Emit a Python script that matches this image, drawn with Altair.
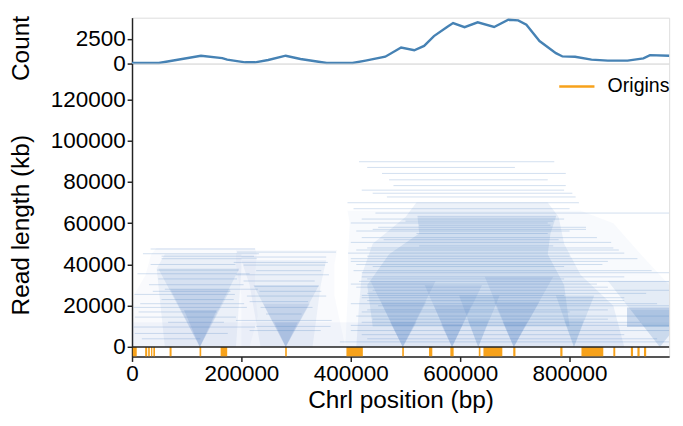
import altair as alt
import pandas as pd

# ---------------- data ----------------
# coverage (top panel)
cov_pos = [0, 49000, 126000, 165000, 174000, 207000, 225000, 249000, 281000, 308000,
           356000, 403000, 427000, 463000, 492000, 516000, 534000, 552000, 576000, 587000,
           608000, 632000, 662000, 688000, 706000, 721000, 745000, 775000, 787000, 810000,
           840000, 870000, 906000, 935000, 947000, 982000]
cov_val = [60, 60, 790, 550, 400, 130, 130, 360, 790, 460,
           60, 60, 300, 690, 1610, 1340, 1780, 2770, 3690, 4080,
           3660, 4150, 3690, 4410, 4350, 3910, 2270, 1050, 720, 690,
           400, 300, 300, 520, 850, 790]

# replication origins (start, end in bp)
orig_start = [1400, 24000, 29500, 34800, 39000, 68700, 123500, 162000, 280000, 392000, 494000,
              543000, 582000, 634000, 642500, 697000, 783000, 821700, 880000, 912000, 924000, 936000]
orig_end = [8600, 27700, 32500, 37100, 42000, 72300, 126500, 174000, 283000, 422000, 497000,
            549000, 588000, 637000, 677000, 701000, 787000, 861600, 883500, 916000, 928000, 940000]

# individual visible reads: length (y), start, end
read_len = [47500, 45200, 44000, 42800, 40000, 37300, 35500, 33000, 30200, 28000, 27000, 25500, 23000,
            21000, 19200, 17000, 14500, 12000, 9700, 6600, 4000,
            46000, 43600, 41000, 39700, 37000, 35000, 32000, 29400, 27000, 24700, 22000, 19200,
            16000, 12900, 10000, 8000,
            89760, 87000, 84100, 81000, 78200, 76000, 74500, 72700, 69900, 67000, 64900, 63300,
            62000, 61000, 60100, 59000, 58000, 57000, 56200, 55000, 53000, 52000, 50700, 49000,
            48000, 47000, 45500, 44000, 42800, 41500, 40000, 39000, 37000, 36000, 34000, 33000,
            31800, 30500, 29000, 27500, 26000, 25000, 23900, 22500, 21000, 20000, 18000, 17000,
            15000, 13500, 12000, 10500, 8000, 6000, 4000, 2500]
read_start = [34000, 20000, 54000, 54000, 34000, 46000, 10000, 48000, 31000, 60000, 38000, 4500, 54000,
              15000, 3000, 12000, 5000, 66000, 3000, 5000, 18000,
              192000, 200000, 186000, 204000, 227000, 190000, 204000, 224000, 233000, 210000, 215000, 235000,
              245000, 190000, 227000, 215000,
              415000, 430000, 457000, 470000, 478000, 420000, 440000, 466000, 394000, 405000, 445000, 522000,
              420000, 500000, 400000, 525000, 450000, 440000, 410000, 520000, 420000, 460000, 400000, 525000,
              430000, 410000, 395000, 430000, 400000, 400000, 410000, 440000, 405000, 420000, 420000, 430000,
              415000, 400000, 410000, 440000, 430000, 420000, 420000, 430000, 400000, 450000, 430000, 420000,
              410000, 440000, 420000, 400000, 400000, 420000, 430000, 380000]
read_end = [225000, 232000, 223000, 228000, 189000, 195000, 215000, 192000, 204000, 230000, 180000, 188000, 186000,
            205000, 210000, 155000, 190000, 168000, 225000, 175000, 125000,
            373000, 355000, 358000, 353000, 346000, 360000, 334000, 341000, 346000, 355000, 322000, 330000,
            310000, 365000, 363000, 345000,
            772000, 700000, 793000, 760000, 793000, 790000, 805000, 811000, 817000, 800000, 982000, 775000,
            790000, 770000, 760000, 765000, 830000, 830000, 800000, 760000, 850000, 780000, 876000, 770000,
            880000, 890000, 900000, 800000, 924000, 870000, 860000, 790000, 950000, 982000, 900000, 790000,
            982000, 850000, 870000, 982000, 940000, 790000, 900000, 900000, 960000, 982000, 870000, 800000,
            982000, 870000, 930000, 982000, 982000, 900000, 960000, 982000]

# broad density envelopes of the read cloud: shape id, opacity, read length, left and right edge
env_shape = ["FA"] * 6 + ["FB"] * 4 + ["FC"] * 5 + ["LA"] * 3 + ["LB"] * 3 + ["LC"] * 6 + ["MC"] * 5 \
    + ["DB"] * 2 + ["BASE"] * 2
env_alpha = [0.035] * 6 + [0.035] * 4 + [0.04] * 5 + [0.08] * 3 + [0.08] * 3 + [0.10] * 6 + [0.14] * 5 \
    + [0.28] * 2 + [0.05] * 2
env_y = [0, 15000, 25500, 35000, 45000, 48000,
         0, 25000, 40000, 47000,
         0, 30000, 45000, 60000, 66000,
         0, 38000, 45000,
         0, 30000, 42000,
         0, 20000, 35000, 50000, 63000, 70000,
         10000, 30000, 45000, 55000, 63000,
         9700, 19200,
         0, 12000]
env_xl = [0, 0, 4000, 25000, 35000, 45000,
          200000, 200000, 190000, 190000,
          390000, 395000, 395000, 398000, 394000,
          60000, 45000, 60000,
          235000, 215000, 200000,
          410000, 415000, 420000, 440000, 500000, 520000,
          440000, 430000, 470000, 525000, 522000,
          905000, 905000,
          0, 0]
env_xr = [215000, 230000, 225000, 225000, 228000, 225000,
          390000, 370000, 370000, 375000,
          982000, 982000, 930000, 880000, 820000,
          190000, 200000, 200000,
          330000, 345000, 355000,
          900000, 880000, 820000, 790000, 780000, 760000,
          800000, 790000, 760000, 765000, 775000,
          982000, 982000,
          982000, 982000]

# V-shaped dense read fans above origins: tip position, top read length, left/right edge at the top
tri_tip = [124000, 124000, 124000, 281000, 281000, 281000, 495000, 495000, 495000,
           585000, 585000, 585000, 633000, 633000, 698000, 698000, 698000, 808000, 808000, 965000, 965000]
tri_top = [38000, 28000, 18000, 30000, 21000, 12000, 32000, 22000, 12000,
           30000, 20000, 11000, 25000, 13000, 34000, 22000, 12000, 25000, 13000, 32000, 18000]
tri_left = [48000, 70000, 95000, 222000, 240000, 260000, 436000, 455000, 472000,
            535000, 552000, 565000, 598000, 614000, 645000, 662000, 678000, 775000, 790000, 870000, 912000]
tri_right = [196000, 180000, 155000, 342000, 325000, 303000, 555000, 538000, 520000,
             640000, 620000, 605000, 672000, 652000, 770000, 745000, 722000, 845000, 826000, 1060000, 1020000]
tri_alpha = [0.13, 0.13, 0.16, 0.13, 0.13, 0.16, 0.13, 0.13, 0.16,
             0.13, 0.13, 0.16, 0.15, 0.15, 0.13, 0.13, 0.16, 0.14, 0.14, 0.11, 0.11]

# ---------------- frames ----------------
cov_df = pd.DataFrame({"pos": cov_pos, "count": cov_val})
orig_df = pd.DataFrame({"start": orig_start, "end": orig_end, "label": ["Origins"] * len(orig_start)})
read_df = pd.DataFrame({"len": read_len, "start": read_start, "end": read_end})
env_df = pd.DataFrame({"shape": env_shape, "alpha": env_alpha, "y": env_y, "xl": env_xl, "xr": env_xr})
tri_rows = []
for i, (tp, tt, tl, tr, ta) in enumerate(zip(tri_tip, tri_top, tri_left, tri_right, tri_alpha)):
    tri_rows.append({"shape": f"T{i}", "alpha": ta, "y": 0, "xl": tp, "xr": tp})
    tri_rows.append({"shape": f"T{i}", "alpha": ta, "y": tt, "xl": tl, "xr": tr})
shape_df = pd.concat([env_df, pd.DataFrame(tri_rows)], ignore_index=True)
zero_df = pd.DataFrame({"y": [0]})

X_MAX = 982000
Y_MIN, Y_MAX = -4600, 137300
FONT = "Liberation Sans"
READ_COLOR = "#4a7fc1"

xscale = alt.Scale(domain=[0, X_MAX], nice=False, zero=False)
yscale = alt.Scale(domain=[Y_MIN, Y_MAX], nice=False, zero=False)

axis_common = dict(labelFont=FONT, labelFontSize=23, labelColor="black", titleFont=FONT,
                   titleFontWeight="normal", titleColor="black",
                   domainColor="#222", domainWidth=1.5, tickColor="#222", tickWidth=1.5,
                   tickSize=5, grid=False, labelPadding=2)

top = alt.Chart(cov_df).mark_line(color="#4682b4", strokeWidth=2.4).encode(
    x=alt.X("pos:Q", scale=xscale, axis=None),
    y=alt.Y("count:Q", scale=alt.Scale(domain=[0, 4620], nice=False),
            axis=alt.Axis(values=[0, 2500], title="Count", titleX=-114, titleY=31, titleFontSize=25,
                          titleBaseline="middle", format="d", **axis_common)),
).properties(width=550, height=47)

env = alt.Chart(shape_df).mark_area(orient="horizontal", color=READ_COLOR, clip=True).encode(
    y=alt.Y("y:Q", scale=yscale),
    x=alt.X("xl:Q", scale=xscale, stack=None),
    x2="xr:Q",
    detail="shape:N",
    opacity=alt.Opacity("alpha:Q", scale=None),
)

reads = alt.Chart(read_df).mark_rule(color=READ_COLOR, strokeWidth=1, opacity=0.25, clip=True).encode(
    y=alt.Y("len:Q", scale=yscale),
    x=alt.X("start:Q", scale=xscale),
    x2="end:Q",
)

zero_rule = alt.Chart(zero_df).mark_rule(color="#222", strokeWidth=1.5).encode(
    y=alt.Y("y:Q", scale=yscale)
)

origins = alt.Chart(orig_df).mark_rect(clip=True).encode(
    x=alt.X("start:Q", scale=xscale,
            axis=alt.Axis(values=[0, 200000, 400000, 600000, 800000], format="d", titleFontSize=25,
                          title="Chrl position (bp)", labelFlush=False, titlePadding=2, **axis_common)),
    x2="end:Q",
    y=alt.Y("lo:Q", scale=yscale,
            axis=alt.Axis(values=[0, 20000, 40000, 60000, 80000, 100000, 120000], format="d",
                          title="Read length (kb)", titleX=-114, titleY=165, titleFontSize=25,
                          titleBaseline="middle", **axis_common)),
    y2="hi:Q",
    color=alt.Color("label:N", scale=alt.Scale(domain=["Origins"], range=["#f7a21b"]),
                    legend=alt.Legend(title=None, orient="none", legendX=436, legendY=4,
                                      symbolType="stroke",
                                      symbolStrokeColor="#f7a21b", symbolStrokeWidth=2.5,
                                      symbolSize=1300, labelFont=FONT, labelFontSize=20,
                                      labelOffset=12, labelColor="black")),
).transform_calculate(lo=str(Y_MIN), hi="0")

bottom = alt.layer(env, reads, origins, zero_rule).properties(width=550, height=300)

chart = alt.vconcat(top, bottom, spacing=0, bounds="flush").resolve_legend(color="independent").properties(
    padding={"left": 0, "top": 1, "right": 0, "bottom": 0}
).configure_view(stroke="#222", strokeWidth=1.5).configure(background="white")

chart.save("out.html", embed_options={"renderer": "svg", "actions": False})
